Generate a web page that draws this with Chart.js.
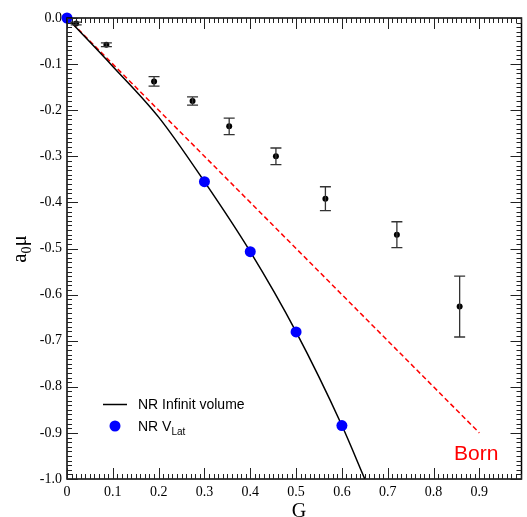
<!DOCTYPE html>
<html><head><meta charset="utf-8">
<script src="https://cdn.jsdelivr.net/npm/chart.js@4/dist/chart.umd.min.js"></script>
<style>html,body{margin:0;padding:0;background:#fff;}canvas{display:block;}</style>
</head><body>
<canvas id="c" width="527" height="517"></canvas>
<script>
// Tick labels
const xTicks = [0, 0.1, 0.2, 0.3, 0.4, 0.5, 0.6, 0.7, 0.8, 0.9];
const xTickLabels = ["0", "0.1", "0.2", "0.3", "0.4", "0.5", "0.6", "0.7", "0.8", "0.9"];
const yTicks = [0, -0.1, -0.2, -0.3, -0.4, -0.5, -0.6, -0.7, -0.8, -0.9, -1.0];
const yTickLabels = ["0.0", "-0.1", "-0.2", "-0.3", "-0.4", "-0.5", "-0.6", "-0.7", "-0.8", "-0.9", "-1.0"];

// Born approximation (red dashed)
const bornG = [0, 0.9];
const bornA = [0, -0.9];

// NR infinite volume (black line)
const infG = [0, 0.1, 0.2, 0.3, 0.4, 0.5, 0.6, 0.65];
const infA = [0, -0.105, -0.215, -0.355, -0.507, -0.681, -0.884, -1.0];

// NR V_Lat (blue points)
const vlatG = [0, 0.3, 0.4, 0.5, 0.6];
const vlatA = [0, -0.355, -0.507, -0.681, -0.884];

// Lattice results with error bars (black points)
const latG = [0.02, 0.086, 0.190, 0.274, 0.354, 0.456, 0.564, 0.720, 0.857];
const latA = [-0.012, -0.058, -0.1375, -0.180, -0.235, -0.300, -0.392, -0.470, -0.626];
const latErr = [0.003, 0.004, 0.0104, 0.009, 0.018, 0.018, 0.026, 0.028, 0.066];

const pts = (xs, ys) => xs.map((x, i) => ({x: x, y: ys[i]}));

const decor = {
  id: 'decor',
  afterDatasetsDraw(chart) {
    const ctx = chart.ctx, xs = chart.scales.x, ys = chart.scales.y;
    // error bars
    ctx.save();
    ctx.strokeStyle = '#333';
    ctx.lineWidth = 1.3;
    latG.forEach((g, i) => {
      const px = xs.getPixelForValue(g);
      const top = ys.getPixelForValue(latA[i] + latErr[i]);
      const bot = ys.getPixelForValue(latA[i] - latErr[i]);
      ctx.beginPath();
      ctx.moveTo(px, top); ctx.lineTo(px, bot);
      ctx.moveTo(px - 5.5, top); ctx.lineTo(px + 5.5, top);
      ctx.moveTo(px - 5.5, bot); ctx.lineTo(px + 5.5, bot);
      ctx.stroke();
    });
    ctx.restore();
  },
  afterDraw(chart) {
    const ctx = chart.ctx, a = chart.chartArea, xs = chart.scales.x, ys = chart.scales.y;
    ctx.save();
    // frame
    ctx.strokeStyle = '#000';
    ctx.lineWidth = 1.5;
    ctx.strokeRect(a.left, a.top, a.right - a.left, a.bottom - a.top);
    // ticks
    ctx.lineWidth = 1;
    ctx.strokeStyle = '#222';
    ctx.beginPath();
    for (let k = 0; k <= 99; k++) {
      const v = k / 100;
      if (v > xs.max) break;
      const px = Math.round(xs.getPixelForValue(v)) + 0.5;
      const len = (k % 10 === 0) ? 11 : 5;
      ctx.moveTo(px, a.bottom); ctx.lineTo(px, a.bottom - len);
      ctx.moveTo(px, a.top); ctx.lineTo(px, a.top + len);
    }
    for (let k = 0; k <= 100; k++) {
      const v = -k / 100;
      const py = Math.round(ys.getPixelForValue(v)) + 0.5;
      const len = (k % 10 === 0) ? 11 : 5;
      ctx.moveTo(a.left, py); ctx.lineTo(a.left + len, py);
      ctx.moveTo(a.right, py); ctx.lineTo(a.right - len, py);
    }
    ctx.stroke();

    // legend
    ctx.strokeStyle = '#000';
    ctx.lineWidth = 1.5;
    ctx.beginPath(); ctx.moveTo(103, 404.5); ctx.lineTo(127, 404.5); ctx.stroke();
    ctx.fillStyle = '#0000ff';
    ctx.beginPath(); ctx.arc(115, 426, 5.5, 0, Math.PI * 2); ctx.fill();
    ctx.fillStyle = '#000';
    ctx.font = '14px "Liberation Sans", Arial, sans-serif';
    ctx.textBaseline = 'alphabetic';
    ctx.textAlign = 'left';
    ctx.fillText('NR Infinit volume', 138, 409);
    ctx.fillText('NR V', 138, 431);
    const w = ctx.measureText('NR V').width;
    ctx.font = '10px "Liberation Sans", Arial, sans-serif';
    ctx.fillText('Lat', 138 + w, 435);

    // Born label
    ctx.fillStyle = '#ff0000';
    ctx.font = '21px "Liberation Sans", Arial, sans-serif';
    ctx.fillText('Born', 454, 460);

    // x title
    ctx.fillStyle = '#000';
    ctx.font = '20px "Liberation Serif", "Times New Roman", serif';
    ctx.textAlign = 'center';
    ctx.fillText('G', 299, 517);

    // y title (rotated)
    ctx.translate(26, 249);
    ctx.rotate(-Math.PI / 2);
    ctx.textAlign = 'left';
    ctx.font = '21px "Liberation Serif", "Times New Roman", serif';
    const wa = ctx.measureText('a').width;
    ctx.font = '14px "Liberation Serif", "Times New Roman", serif';
    const w0 = ctx.measureText('0').width;
    ctx.font = '21px "Liberation Serif", "Times New Roman", serif';
    const wm = ctx.measureText('\u03bc').width;
    const total = wa + w0 + wm;
    let x0 = -total / 2;
    ctx.fillText('a', x0, 0);
    ctx.font = '14px "Liberation Serif", "Times New Roman", serif';
    ctx.fillText('0', x0 + wa, 5);
    ctx.font = '21px "Liberation Serif", "Times New Roman", serif';
    ctx.fillText('\u03bc', x0 + wa + w0, 0);
    ctx.restore();
  }
};

new Chart(document.getElementById('c'), {
  type: 'scatter',
  data: {
    datasets: [
      { label: 'NR V_Lat', data: pts(vlatG, vlatA), showLine: false, pointRadius: 5.5,
        pointBackgroundColor: '#0000ff', pointBorderWidth: 0, clip: false, order: 0 },
      { label: 'Lattice', data: pts(latG, latA), showLine: false, pointRadius: 3,
        pointBackgroundColor: '#000', pointBorderWidth: 0, order: 1 },
      { label: 'NR Infinit volume', data: pts(infG, infA), showLine: true, borderColor: '#000',
        borderWidth: 1.5, pointRadius: 0, cubicInterpolationMode: 'monotone', order: 2 },
      { label: 'Born', data: pts(bornG, bornA), showLine: true, borderColor: '#ff0000',
        borderWidth: 1.5, borderDash: [5, 3], pointRadius: 0, order: 3 }
    ]
  },
  options: {
    responsive: false,
    devicePixelRatio: 1,
    animation: false,
    layout: { padding: { top: 18, right: 1, left: 0, bottom: 0 } },
    plugins: { legend: { display: false }, tooltip: { enabled: false } },
    scales: {
      x: {
        type: 'linear', min: 0, max: 0.992,
        grid: { display: false, drawTicks: false }, border: { display: false },
        afterBuildTicks: s => { s.ticks = xTicks.map(v => ({value: v})); },
        afterFit: s => { s.height = 38; },
        ticks: { padding: 5, color: '#000', maxRotation: 0, autoSkip: false,
          font: { family: '"Liberation Serif", "Times New Roman", serif', size: 14 },
          callback: (v, i) => xTickLabels[i] }
      },
      y: {
        type: 'linear', min: -1.0, max: 0,
        grid: { display: false, drawTicks: false }, border: { display: false },
        afterBuildTicks: s => { s.ticks = yTicks.map(v => ({value: v})); },
        afterFit: s => { s.width = 67; },
        ticks: { padding: 5, color: '#000', autoSkip: false,
          font: { family: '"Liberation Serif", "Times New Roman", serif', size: 14 },
          callback: (v, i) => yTickLabels[i] }
      }
    }
  },
  plugins: [decor]
});
</script>
</body></html>
